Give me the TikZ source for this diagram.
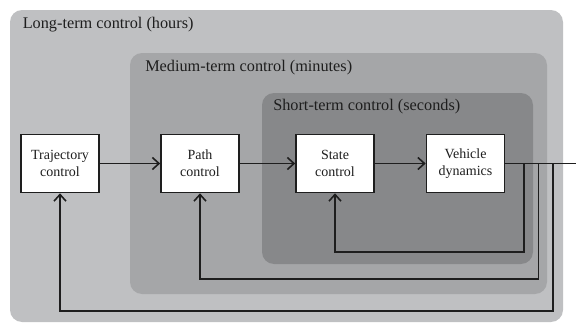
\documentclass[tikz,border=0pt]{standalone}
\usepackage{fontspec}
\setmainfont{Liberation Serif}
\usetikzlibrary{arrows.meta,positioning,calc}
\definecolor{longbg}{HTML}{BFC0C2}
\definecolor{medbg}{HTML}{A5A6A8}
\definecolor{shortbg}{HTML}{87888A}
\definecolor{inkline}{HTML}{1E1E1E}
\tikzset{
  ctrlblock/.style={draw=inkline,fill=white,line width=1.2pt,minimum width=58.5pt,
    minimum height=43.5pt,align=center,font=\fontsize{10.5}{12.75}\selectfont,
    text=inkline,inner sep=0pt},
  zonelabel/.style={anchor=west,font=\fontsize{12.2}{14}\selectfont,text=inkline,inner sep=0pt},
  sig/.style={draw=inkline,line width=1.2pt},
  sigarrow/.style={sig,-{Straight Barb[length=5pt,width=9pt,line width=1.2pt]}}
}

\begin{document}
\begin{tikzpicture}[x=0.75pt,y=0.75pt]
  \useasboundingbox (0,0) rectangle (576,326);
  % nested time-scale zones
  \fill[longbg,rounded corners=9pt] (10,4) rectangle (563,316);
  \fill[medbg,rounded corners=9pt] (130,32) rectangle (547,273);
  \fill[shortbg,rounded corners=9pt] (262,62) rectangle (533,233);
  \node[zonelabel] (longlbl) at (22.5,301) {Long-term control (hours)};
  \node[zonelabel] (medlbl) at (145,258) {Medium-term control (minutes)};
  \node[zonelabel] (shortlbl) at (273,219.5) {Short-term control (seconds)};

  % blocks
  \node[ctrlblock] (traj) at (60,162.5) {Trajectory\\control};
  \node[ctrlblock] (path) at (200,162.5) {Path\\control};
  \node[ctrlblock] (state) at (335,162.5) {State\\control};
  \node[ctrlblock] (vehicle) at (465.5,162.5) {Vehicle\\dynamics};

  % forward path
  \draw[sigarrow] (traj) -- (path);
  \draw[sigarrow] (path) -- (state);
  \draw[sigarrow] (state) -- (vehicle);
  \coordinate (outend) at (576,162.5);
  \draw[sig] (vehicle) -- (outend);

  % feedback loops
  \coordinate (tapS) at (524,162.5);
  \coordinate (tapM) at (538.5,162.5);
  \coordinate (tapL) at (553,162.5);
  \coordinate (retS) at (524,74);
  \coordinate (retM) at (538.5,47);
  \coordinate (retL) at (553,15);
  \draw[sigarrow] (tapS) -- (retS) -| (state.south);
  \draw[sigarrow] (tapM) -- (retM) -| (path.south);
  \draw[sigarrow] (tapL) -- (retL) -| (traj.south);
\end{tikzpicture}
\end{document}
